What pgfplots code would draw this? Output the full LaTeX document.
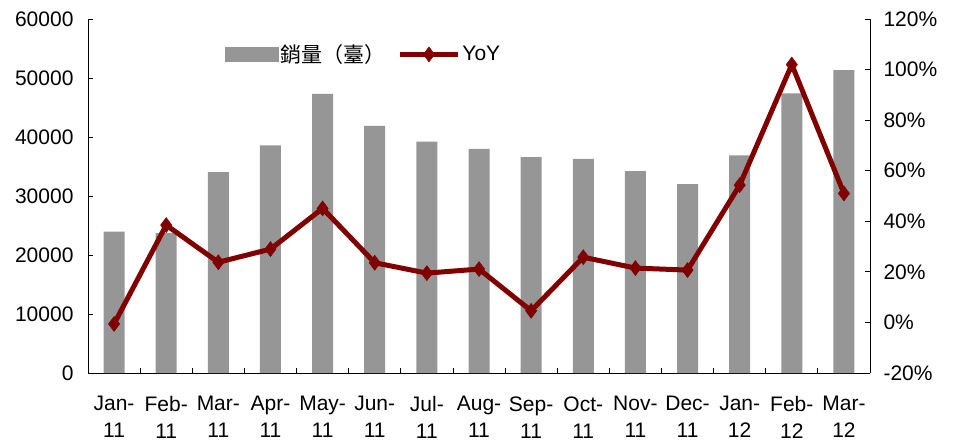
\documentclass[border=0pt]{standalone}
\usepackage{pgfplots}
\pgfplotsset{compat=1.18}
\usepackage{fontspec}
\setmainfont{Liberation Sans}
\newfontfamily\cjk{Noto Sans CJK TC}
\definecolor{bargray}{HTML}{969696}
\definecolor{linered}{HTML}{800000}
\begin{document}
\begin{tikzpicture}[font=\fontsize{21}{27}\selectfont]
\useasboundingbox (-88pt,-72pt) rectangle (869pt,373pt);
\begin{axis}[
  scale only axis, width=782pt, height=354pt,
  at={(0pt,0pt)}, anchor=south west,
  xmin=-0.5, xmax=14.5, ymin=0, ymax=60000,
  axis y line*=left, axis x line*=bottom,
  axis line style={black, line width=0.8pt},
  xtick={0,...,14},
  xticklabels={{Jan-\\11},{Feb-\\11},{Mar-\\11},{Apr-\\11},{May-\\11},{Jun-\\11},{Jul-\\11},{Aug-\\11},{Sep-\\11},{Oct-\\11},{Nov-\\11},{Dec-\\11},{Jan-\\12},{Feb-\\12},{Mar-\\12}},
  xticklabel style={align=center, font=\fontsize{21}{27}\selectfont, yshift=-20pt},
  major x tick style={draw=none},
  minor xtick={0.5,1.5,...,13.5},
  minor x tick style={black, line width=0.8pt},
  ytick={0,10000,...,60000},
  scaled y ticks=false,
  ytick style={black, line width=0.8pt},
  yticklabel style={xshift=-11pt},
  /pgf/number format/1000 sep={},
  /pgf/number format/assume math mode=true,
  tick align=inside, major tick length=5pt, minor tick length=5pt,
  clip=false,
]
\addplot[ybar, bar width=21pt, fill=bargray, draw=none] coordinates {
(0,23950) (1,23700) (2,34050) (3,38600) (4,47300) (5,41900) (6,39200) (7,38000)
(8,36600) (9,36300) (10,34200) (11,32000) (12,36900) (13,47400) (14,51350)};
\end{axis}
\begin{axis}[
  scale only axis, width=782pt, height=354pt,
  at={(0pt,0pt)}, anchor=south west,
  xmin=-0.5, xmax=14.5, ymin=-20, ymax=120,
  axis y line*=right, axis x line=none,
  axis line style={black, line width=0.8pt},
  ytick={-20,0,...,120},
  ytick style={black, line width=0.8pt},
  yticklabel={\pgfmathprintnumber{\tick}\%},
  yticklabel style={xshift=10pt},
  /pgf/number format/assume math mode=true,
  tick align=inside, major tick length=5pt,
  clip=false,
  legend style={at={(0.175,0.90)}, anchor=west, draw=none, fill=none,
    font=\fontsize{21}{27}\selectfont, inner sep=0pt,
    /tikz/every even column/.append style={column sep=10pt}},
  legend columns=2,
]
\addlegendimage{legend image code/.code={\fill[bargray] (0pt,-7pt) rectangle (53pt,7pt);}}
\addlegendentry{{\cjk 銷量（臺）}}
\addplot[color=linered, line width=5pt, mark=diamond*, mark size=7.5pt,
  mark options={fill=linered, line width=0.5pt},
  legend image code/.code={\draw[linered, line width=5pt, mark=diamond*, mark size=7.5pt, mark options={fill=linered, line width=0.5pt}, mark repeat=2, mark phase=2] plot coordinates {(0pt,0pt) (29pt,0pt) (58pt,0pt)};}]
coordinates {
(0,-0.6) (1,38.5) (2,23.8) (3,29.0) (4,45.1) (5,23.6) (6,19.5) (7,21.1)
(8,4.6) (9,25.8) (10,21.5) (11,20.7) (12,54.3) (13,102.0) (14,51.0)};
\addlegendentry{YoY}
\end{axis}
\end{tikzpicture}
\end{document}
